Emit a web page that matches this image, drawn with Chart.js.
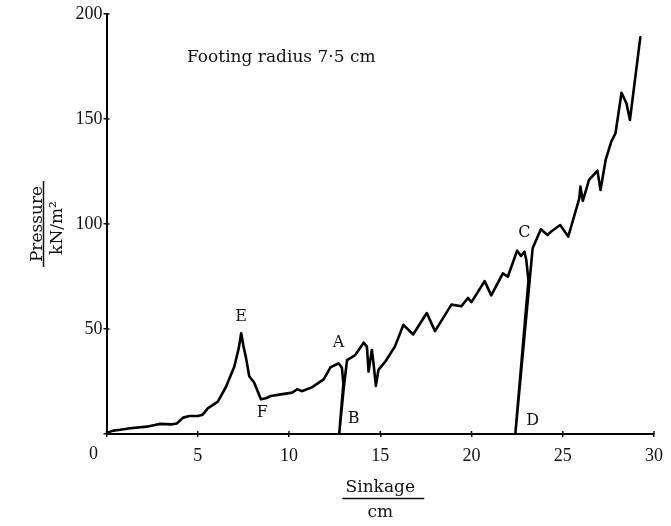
<!DOCTYPE html>
<html>
<head>
<meta charset="utf-8">
<script src="https://cdn.jsdelivr.net/npm/chart.js@4.4.1/dist/chart.umd.min.js"></script>
<style>
  html, body { margin: 0; padding: 0; background: #ffffff; }
  #wrap { width: 671px; height: 526px; }
</style>
</head>
<body>
<div id="wrap"><canvas id="c" width="671" height="526"></canvas></div>
<script>
// ---- data ----
const sinkage = [0, 0.37, 0.75, 1.3, 2.2, 2.9, 3.6, 3.85, 4.2, 4.55, 5.0, 5.27, 5.55, 6.1, 6.55, 7.0, 7.25, 7.38, 7.5, 7.64, 7.82, 8.09, 8.46, 8.73, 9.0, 9.64, 10.18, 10.45, 10.7, 11.25, 11.9, 12.27, 12.72, 12.9, 12.98, 12.75, 13.0, 13.18, 13.63, 14.09, 14.27, 14.36, 14.54, 14.63, 14.76, 14.9, 15.27, 15.8, 16.27, 16.8, 17.55, 18.0, 18.9, 19.45, 19.8, 20.0, 20.72, 21.08, 21.72, 21.99, 22.5, 22.71, 22.9, 23.0, 23.12, 22.4, 23.35, 23.8, 24.17, 24.35, 24.86, 25.3, 25.9, 25.97, 26.1, 26.44, 26.9, 27.07, 27.35, 27.66, 27.89, 28.22, 28.49, 28.68, 29.25];
const pressure = [0.5, 1.6, 2.0, 2.7, 3.5, 4.8, 4.6, 5.0, 7.8, 8.6, 8.6, 9.2, 12.2, 15.4, 22.5, 32, 41, 48, 42, 36.5, 27.5, 24.5, 16.5, 17, 18.1, 19, 19.7, 21.3, 20.4, 22.2, 26, 31.7, 33.7, 31.5, 24, 0, 22, 35.2, 37.6, 43.5, 41.6, 29.7, 40, 33.7, 22.9, 30.5, 34.4, 41.6, 52, 47.4, 57.6, 49, 61.6, 60.8, 64.8, 62.8, 72.8, 66, 76.5, 74.9, 87.3, 84.8, 86.8, 83, 73, 0, 88.4, 97.5, 94.8, 96.3, 99.5, 94, 112, 117.8, 111, 121, 125.4, 116.2, 130.5, 139.2, 143.2, 162.5, 157.5, 149.5, 188.9];

const xTickValues = [0, 5, 10, 15, 20, 25, 30];
const yTickValues = [0, 50, 100, 150, 200];

const markText = ['E', 'F', 'A', 'B', 'C', 'D'];
const markSinkage = [7.37, 8.54, 12.72, 13.54, 22.9, 23.35];
const markPressure = [55.9, 9.9, 43.2, 7.0, 95.6, 6.3];

const chartNote = 'Footing radius 7\u00B75 cm';
const xTitle = ['Sinkage', 'cm'];
const yTitle = ['Pressure', 'kN/m\u00B2'];

// ---- chart ----
const points = sinkage.map((s, i) => ({ x: s, y: pressure[i] }));
const SERIF = '"DejaVu Serif", serif';
const NUMFONT = '"Liberation Serif", serif';
const INK = '#111111';

const decor = {
  id: 'decor',
  afterDraw(chart) {
    const ctx = chart.ctx;
    const xs = chart.scales.x, ys = chart.scales.y;
    const x0 = xs.getPixelForValue(0), y0 = ys.getPixelForValue(0);
    ctx.save();
    ctx.strokeStyle = INK;
    ctx.lineWidth = 1.5;
    // inner halves of tick marks
    xTickValues.forEach(v => {
      const px = xs.getPixelForValue(v);
      ctx.beginPath(); ctx.moveTo(px, y0); ctx.lineTo(px, y0 - 3); ctx.stroke();
    });
    yTickValues.forEach(v => {
      const py = ys.getPixelForValue(v);
      ctx.beginPath(); ctx.moveTo(x0, py); ctx.lineTo(x0 + 3, py); ctx.stroke();
    });
    ctx.fillStyle = INK;
    // x "0" label sits left of the origin
    ctx.font = '18px ' + NUMFONT;
    ctx.textAlign = 'center';
    ctx.textBaseline = 'middle';
    ctx.fillText(String(xTickValues[0]), x0 - 13, y0 + 20);
    // point letters
    ctx.font = '16px ' + SERIF;
    markText.forEach((t, i) => {
      ctx.fillText(t, xs.getPixelForValue(markSinkage[i]), ys.getPixelForValue(markPressure[i]));
    });
    // note
    ctx.font = '17px ' + SERIF;
    ctx.textAlign = 'left';
    ctx.fillText(chartNote, 187, 58);
    // x title
    const cx = (xs.left + xs.right) / 2;
    ctx.textAlign = 'center';
    ctx.textBaseline = 'alphabetic';
    ctx.fillText(xTitle[0], cx, 492);
    ctx.lineWidth = 1.5;
    ctx.beginPath(); ctx.moveTo(cx - 38, 498.5); ctx.lineTo(cx + 44, 498.5); ctx.stroke();
    ctx.fillText(xTitle[1], cx, 517);
    // y title (rotated)
    const cy = (ys.top + ys.bottom) / 2;
    ctx.translate(0, 0);
    ctx.save();
    ctx.translate(42, cy);
    ctx.rotate(-Math.PI / 2);
    ctx.fillText(yTitle[0], 0, 0);
    ctx.beginPath(); ctx.moveTo(-43, 1.5); ctx.lineTo(43, 1.5); ctx.stroke();
    ctx.restore();
    ctx.save();
    ctx.translate(62, cy + 4);
    ctx.rotate(-Math.PI / 2);
    ctx.fillText(yTitle[1], 0, 0);
    ctx.restore();
    ctx.restore();
  }
};

new Chart(document.getElementById('c'), {
  type: 'scatter',
  data: {
    datasets: [{
      data: points,
      showLine: true,
      borderColor: '#000000',
      borderWidth: 2.6,
      pointRadius: 0,
      tension: 0,
      borderJoinStyle: 'round',
      borderCapStyle: 'round'
    }]
  },
  options: {
    responsive: false,
    animation: false,
    devicePixelRatio: 1,
    layout: { padding: { left: 0, right: 14, top: 14, bottom: 0 } },
    plugins: { legend: { display: false }, tooltip: { enabled: false } },
    scales: {
      x: {
        type: 'linear', min: 0, max: 30,
        afterBuildTicks: s => { s.ticks = xTickValues.map(v => ({ value: v })); },
        afterFit: s => { s.height = 92; },
        border: { display: true, color: '#000', width: 2 },
        grid: { display: true, drawOnChartArea: false, drawTicks: true, tickLength: 3, color: INK, lineWidth: 1.5 },
        ticks: {
          color: INK, padding: 8, maxRotation: 0,
          font: { family: NUMFONT, size: 18 },
          callback: v => (v === 0 ? '' : String(v))
        }
      },
      y: {
        type: 'linear', min: 0, max: 200,
        afterBuildTicks: s => { s.ticks = yTickValues.map(v => ({ value: v })); },
        afterFit: s => { s.width = 106.5; },
        border: { display: true, color: '#000', width: 2 },
        grid: { display: true, drawOnChartArea: false, drawTicks: true, tickLength: 3, color: INK, lineWidth: 1.5 },
        ticks: {
          color: INK, padding: 1,
          font: { family: NUMFONT, size: 18 },
          callback: v => (v === 0 ? '' : String(v))
        }
      }
    }
  },
  plugins: [decor]
});
</script>
</body>
</html>
